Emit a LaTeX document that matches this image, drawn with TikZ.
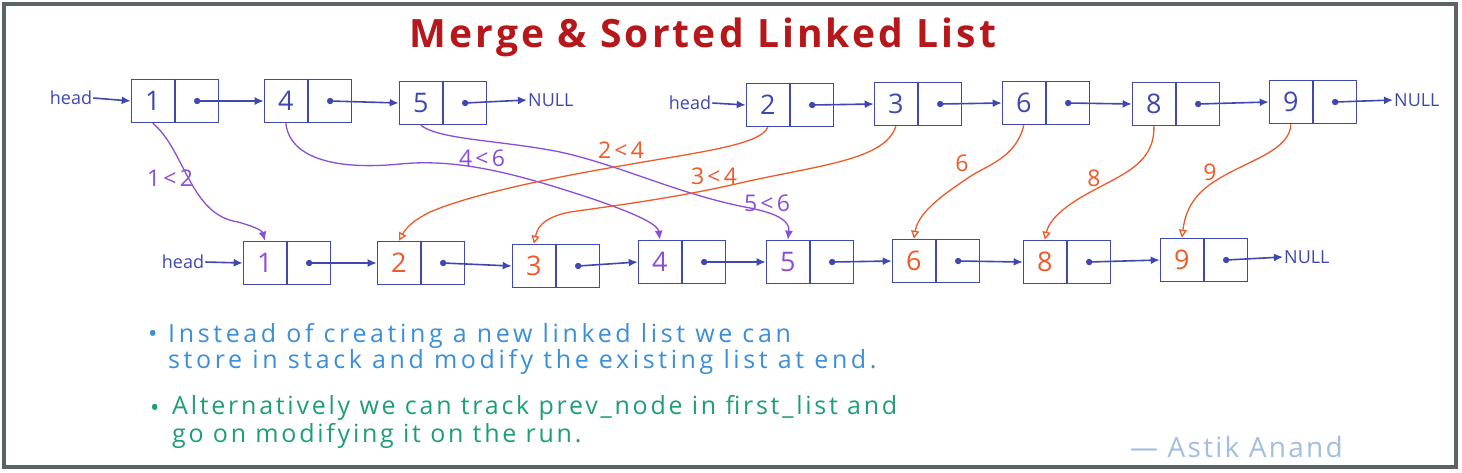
\documentclass[tikz,border=0pt]{standalone}
\usepackage{fontspec}
\setmainfont{Open Sans}
\usetikzlibrary{arrows.meta,calc}
\definecolor{lblue}{HTML}{3F48B0}
\definecolor{lpurple}{HTML}{8A4FD8}
\definecolor{lorange}{HTML}{F05A28}
\definecolor{ltitle}{HTML}{B5171B}
\definecolor{lnote}{HTML}{3A8FD8}
\definecolor{lgreen}{HTML}{1E9E78}
\definecolor{lsign}{HTML}{A3BEDF}
\definecolor{lframe}{HTML}{5B6464}
\tikzset{
  llbox/.style={draw=lblue, line width=1.6pt, minimum width=87pt, minimum height=43pt, inner sep=0pt},
  valtxt/.style={font=\fontsize{27}{29}\selectfont, inner sep=0pt},
  link/.style={draw=lblue, line width=1.6pt, -{Latex[length=9pt,width=8pt]}},
  smalltxt/.style={font=\fontsize{18}{20}\selectfont, text=lblue, inner sep=1pt},
  pcurve/.style={draw=lpurple, line width=1.3pt, -{Latex[length=9pt,width=8pt]}},
  ocurve/.style={draw=lorange, line width=1.3pt, -{Triangle[open,length=8pt,width=8pt]}},
  plbl/.style={font={\fontsize{23}{25}\selectfont\addfontfeature{LetterSpace=14}}, text=lpurple},
  olbl/.style={font={\fontsize{23}{25}\selectfont\addfontfeature{LetterSpace=14}}, text=lorange},
  bluenote/.style={font={\fontsize{25}{27}\selectfont\addfontfeature{LetterSpace=14.5}}, anchor=west, inner sep=0pt, text=lnote},
  greennote/.style={font={\fontsize{25}{27}\selectfont\addfontfeature{LetterSpace=11}}, anchor=west, inner sep=0pt, text=lgreen},
}
\newcommand\llnode[5]{%
  \node[llbox] (#1) at (#2,#3) {};
  \draw[draw=lblue, line width=1.6pt] (#1.north) -- (#1.south);
  \node[valtxt, text=#5] (#1v) at ($(#1.west)!0.5!(#1.center)$) {#4};
  \coordinate (#1d) at ($(#1.center)!0.5!(#1.east)$);
  \fill[lblue] (#1d) circle (3.2pt);
}
\begin{document}
\begin{tikzpicture}[x=1pt,y=-1pt]
\useasboundingbox (0,0) rectangle (1462,472);
\fill[white] (0,0) rectangle (1462,472);
\draw[lframe, line width=4pt] (4,4) rectangle (1456,467);

% title
\node[font={\fontsize{39}{41}\selectfont\bfseries\addfontfeature{LetterSpace=8}}, text=ltitle] (title) at (703,37) {Merge \& Sorted Linked List};

% first list
\node[smalltxt] (hA) at (71,98) {head};
\llnode{t1}{175}{101}{1}{lblue}
\llnode{t4}{308}{101}{4}{lblue}
\llnode{t5}{443}{103}{5}{lblue}
\node[smalltxt, anchor=west] (nA) at (527,100) {NULL};
\draw[link] (hA.east) -- (t1.west);
\draw[link] (t1d) -- (t4.west);
\draw[link] (t4d) -- (t5.west);
\draw[link] (t5d) -- (nA.west);

% second list
\node[smalltxt] (hB) at (690,103) {head};
\llnode{t2}{790}{105}{2}{lblue}
\llnode{t3}{918}{104}{3}{lblue}
\llnode{t6}{1046}{103}{6}{lblue}
\llnode{t8}{1176}{104}{8}{lblue}
\llnode{t9}{1313}{102}{9}{lblue}
\node[smalltxt, anchor=west] (nB) at (1393,100) {NULL};
\draw[link] (hB.east) -- (t2.west);
\draw[link] (t2d) -- (t3.west);
\draw[link] (t3d) -- (t6.west);
\draw[link] (t6d) -- (t8.west);
\draw[link] (t8d) -- (t9.west);
\draw[link] (t9d) -- (nB.west);

% merged list
\node[smalltxt] (hC) at (183,262) {head};
\llnode{b1}{287}{263}{1}{lpurple}
\llnode{b2}{421}{263}{2}{lorange}
\llnode{b3}{556}{266}{3}{lorange}
\llnode{b4}{682}{262}{4}{lpurple}
\llnode{b5}{810}{262}{5}{lpurple}
\llnode{b6}{936}{261}{6}{lorange}
\llnode{b8}{1067}{262}{8}{lorange}
\llnode{b9}{1204}{260}{9}{lorange}
\node[smalltxt, anchor=west] (nC) at (1283,257) {NULL};
\draw[link] (hC.east) -- (b1.west);
\draw[link] (b1d) -- (b2.west);
\draw[link] (b2d) -- (b3.west);
\draw[link] (b3d) -- (b4.west);
\draw[link] (b4d) -- (b5.west);
\draw[link] (b5d) -- (b6.west);
\draw[link] (b6d) -- (b8.west);
\draw[link] (b8d) -- (b9.west);
\draw[link] (b9d) -- (nC.west);

% purple moves
\draw[pcurve] (t1v |- t1.south) .. controls (185,150) and (190,215) .. (238,222) .. controls (252,226) and (262,230) .. (b1v |- b1.north);
\draw[pcurve] (t4v |- t4.south) .. controls (290,160) and (340,170) .. (400,164) .. controls (460,158) and (520,175) .. (590,198) .. controls (640,215) and (658,225) .. (b4v |- b4.north);
\draw[pcurve] (t5v |- t5.south) .. controls (440,140) and (500,140) .. (560,152) .. controls (620,165) and (680,195) .. (750,208) .. controls (780,214) and (790,222) .. (b5v |- b5.north);
\node[plbl] (l12) at (170,178) {1<2};
\node[plbl] (l46) at (482,158) {4<6};
\node[plbl] (l56) at (767,203) {5<6};

% orange moves
\draw[ocurve] (t2v |- t2.south) .. controls (760,145) and (700,152) .. (620,166) .. controls (540,180) and (470,195) .. (430,212) .. controls (410,222) and (405,230) .. (b2v |- b2.north);
\draw[ocurve] (t3v |- t3.south) .. controls (885,160) and (820,165) .. (740,183) .. controls (680,197) and (620,205) .. (570,212) .. controls (540,218) and (537,230) .. (b3v |- b3.north);
\draw[ocurve] (t6v |- t6.south) .. controls (1015,160) and (985,165) .. (965,180) .. controls (935,200) and (918,215) .. (b6v |- b6.north);
\draw[ocurve] (t8v |- t8.south) .. controls (1155,165) and (1120,175) .. (1085,195) .. controls (1055,212) and (1048,225) .. (b8v |- b8.north);
\draw[ocurve] (t9v |- t9.south) .. controls (1290,150) and (1250,160) .. (1220,178) .. controls (1190,195) and (1185,215) .. (b9v |- b9.north);
\node[olbl] (l24) at (621,150) {2<4};
\node[olbl] (l34) at (714,176) {3<4};
\node[olbl] (l6) at (962,163) {6};
\node[olbl] (l8) at (1094,178) {8};
\node[olbl] (l9) at (1210,172) {9};

% notes
\node[bluenote] (bu1) at (148,336) {•};
\node[bluenote] (n1a) at (168,336) {Instead of creating a new linked list we can};
\node[bluenote] (n1b) at (168,362) {store in stack and modify the existing list at end.};
\node[greennote] (bu2) at (150,410) {•};
\node[greennote] (n2a) at (172,408) {Alternatively we can track prev\_node in first\_list and};
\node[greennote] (n2b) at (172,436) {go on modifying it on the run.};

% signature
\node[font={\fontsize{28}{30}\selectfont\addfontfeature{LetterSpace=8}}, text=lsign, anchor=west, inner sep=0pt] (sign) at (1130,447) {— Astik Anand};
\end{tikzpicture}
\end{document}
